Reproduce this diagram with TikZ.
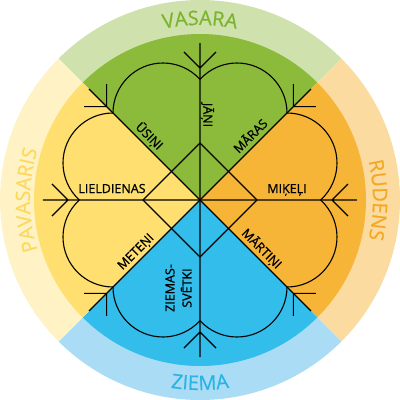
\documentclass[tikz,border=0pt]{standalone}
\usepackage{fontspec}
\setmainfont{Open Sans}
\newfontfamily\feastfont{Open Sans}[FakeBold=0.9]
\newfontfamily\seasonface{Open Sans}[FakeBold=0.6]
\usetikzlibrary{decorations.text}
\definecolor{vasaraIn}{HTML}{8CBB3C}
\definecolor{vasaraOut}{HTML}{CFE2AE}
\definecolor{vasaraText}{HTML}{7CB42F}
\definecolor{rudensIn}{HTML}{F7B538}
\definecolor{rudensOut}{HTML}{FBDBA0}
\definecolor{rudensText}{HTML}{F5A823}
\definecolor{ziemaIn}{HTML}{33BDEB}
\definecolor{ziemaOut}{HTML}{AADDF5}
\definecolor{ziemaText}{HTML}{2BB3E6}
\definecolor{pavasarisIn}{HTML}{FEDF6F}
\definecolor{pavasarisOut}{HTML}{FFF2C4}
\definecolor{pavasarisText}{HTML}{FDD95E}
\newcommand\seasonfont{\seasonface\fontsize{20}{20}\selectfont}
\begin{document}
\begin{tikzpicture}[x=1pt,y=1pt,
lbl/.style={font=\feastfont\fontsize{12.5}{17}\selectfont, inner sep=0pt, align=center},
ink/.style={line width=1.1pt, line join=miter}]
\useasboundingbox (-200,-200) rectangle (200,200);
% seasons
\foreach \a/\co/\ci in {45/vasaraOut/vasaraIn, -45/rudensOut/rudensIn,
  -135/ziemaOut/ziemaIn, 135/pavasarisOut/pavasarisIn}
{
  \fill[\co] (0,0) -- (\a:200) arc[start angle=\a, end angle=\a+90, radius=200] -- cycle;
  \fill[\ci] (0,0) -- (\a:166) arc[start angle=\a, end angle=\a+90, radius=166] -- cycle;
}
% spokes
\foreach \a in {0,45,...,315}
  \draw[ink, rotate=\a] (0,0) -- (157,0) (148,16) -- (132,0) -- (148,-16);
\draw[ink] (57,0) -- (0,57) -- (-57,0) -- (0,-57) -- cycle;
% hearts
\foreach \a in {0,90,180,270}
  \draw[ink, rotate=\a] (87,87) arc[start angle=90, end angle=-47.8, radius=50]
    (87,-87) arc[start angle=-90, end angle=47.8, radius=50];
% season names
\path[decorate, decoration={text along path, text align=center,
  text color=vasaraText, text={|\seasonfont|VASARA}}]
  (115:175) arc[start angle=115, end angle=65, radius=175];
\path[decorate, decoration={text along path, text align=center,
  text color=rudensText, text={|\seasonfont|RUDENS}}]
  (40:173) arc[start angle=40, end angle=-40, radius=173];
\path[decorate, decoration={text along path, text align=center,
  text color=ziemaText, text={|\seasonfont|ZIEMA}}]
  (245:190) arc[start angle=245, end angle=295, radius=190];
\path[decorate, decoration={text along path, text align=center,
  text color=pavasarisText, text={|\seasonfont|PAVASARIS}}]
  (230:170) arc[start angle=230, end angle=130, radius=170];
% feasts
\node[lbl, anchor=base, rotate=-90] (jani) at (3.5,85) {JĀŅI};
\node[lbl, anchor=base, rotate=-45] (usini) at (-53.7,60.8) {ŪSIŅI};
\node[lbl, anchor=base, rotate=45] (maras) at (53.7,60.8) {MĀRAS};
\node[lbl, anchor=base] (lieldienas) at (-88,7) {LIELDIENAS};
\node[lbl, anchor=base] (mikeli) at (87,7) {MIĶEĻI};
\node[lbl, anchor=base, rotate=45] (meteni) at (-61.5,-54.5) {METEŅI};
\node[lbl, anchor=base, rotate=-45] (martini) at (58.7,-51.7) {MĀRTIŅI};
\node[lbl, rotate=90] (ziemassvetki) at (-21.5,-88) {ZIEMAS-\\SVĒTKI};
\end{tikzpicture}
\end{document}
